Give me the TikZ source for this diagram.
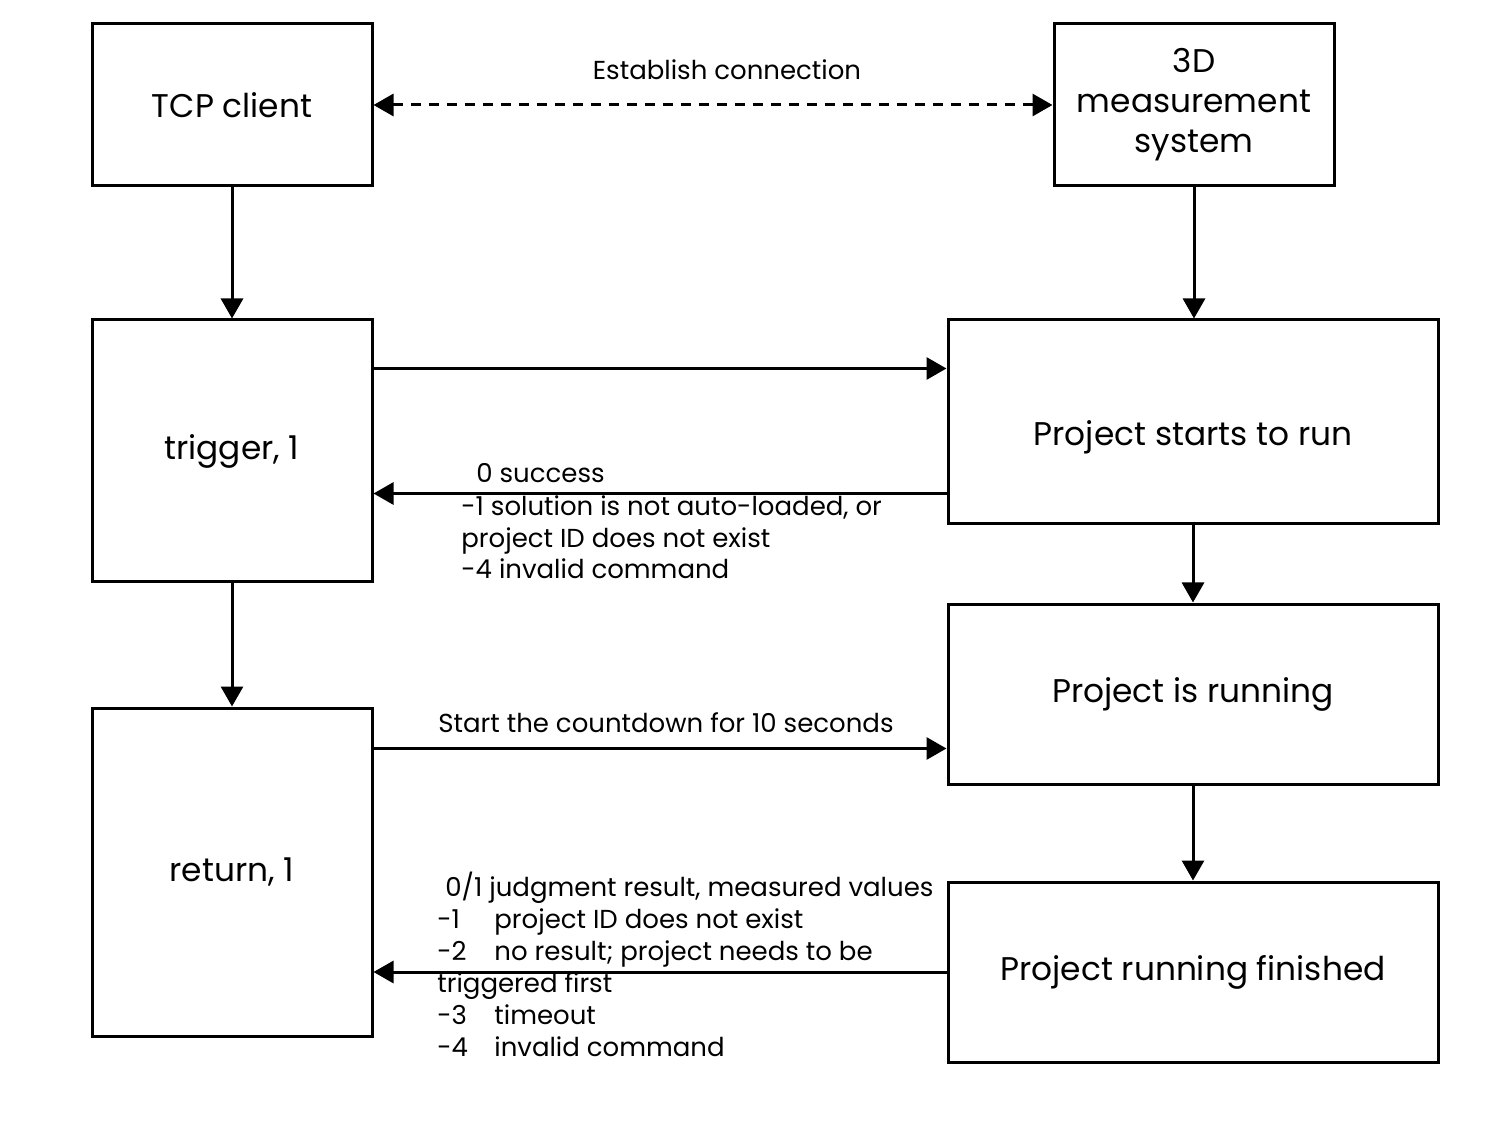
\documentclass[tikz,border=0pt]{standalone}
\usepackage{fontspec}
\setmainfont{Poppins}
\usetikzlibrary{arrows.meta}
\definecolor{ink}{RGB}{0, 0, 0}

\begin{document}
\begin{tikzpicture}[x=0.5pt, y=-0.5pt,
        box/.style={draw=ink, line width=1.5pt, align=center, inner sep=0pt,
                    font=\fontsize{16.4}{20}\selectfont},
        smallbox/.style={box, minimum width=140pt},
        widebox/.style={box, minimum width=245pt},
        arr/.style={draw=ink, line width=1.5pt, -{Triangle[length=10pt, width=11pt]}},
        link/.style={draw=ink, line width=1.5pt, dash pattern=on 5pt off 4pt,
                     {Triangle[length=10pt, width=11pt]}-{Triangle[length=10pt, width=11pt]}},
        note/.style={inner sep=0pt, align=left, font=\fontsize{13}{16}\selectfont}]
    \useasboundingbox (0,0) rectangle (1500,1128);
    % boxes
    \node[smallbox, minimum height=81pt]  (tcp)   at ( 232, 105) {TCP client};
    \node[smallbox, minimum height=81pt]  (meas)  at (1194, 105) {3D\\measurement\\system};
    \node[smallbox, minimum height=131pt] (trig)  at ( 232, 451) {trigger, 1};
    \node[smallbox, minimum height=164pt] (ret)   at ( 232, 872) {return, 1};
    \node[widebox,  minimum height=102pt, text height=28pt] (start) at (1193, 422) {Project starts to run};
    \node[widebox,  minimum height=90pt]  (run)   at (1193, 694) {Project is running};
    \node[widebox,  minimum height=90pt]  (fin)   at (1193, 972) {Project running finished};
    % connection
    \draw[link] (tcp.east) -- (meas.west);
    \node[note, anchor=base] (estab) at (727, 80) {Establish connection};
    % downward flow
    \draw[arr] (tcp.south)  -- (trig.north);
    \draw[arr] (trig.south) -- (ret.north);
    \draw[arr] (meas.south) -- (meas.south |- start.north);
    \draw[arr] (start.south) -- (start.south |- run.north);
    \draw[arr] (run.south)  -- (run.south |- fin.north);
    % requests and replies
    \draw[arr] ([yshift=-25pt]trig.north east) coordinate (q1) -- (start.west |- q1);
    \draw[arr] ([yshift=16pt]start.south west) coordinate (a1) -- (trig.east |- a1);
    \draw[arr] ([yshift=-21pt]ret.north east) coordinate (q2) -- (run.west |- q2);
    \draw[arr] (fin.west) -- (ret.east |- fin.west);
    \node[note, anchor=base] (count) at (666, 732) {Start the countdown for 10 seconds};
    % base anchor sits on the last line
    \node[note, anchor=base west] (reply1) at (461, 579)
        {\hspace*{7.5pt}0 success\\
         -1 solution is not auto-loaded, or\\
         project ID does not exist\\
         -4 invalid command};
    \node[note, anchor=base west] (reply2) at (437, 1056)
        {\hspace*{4pt}0/1 judgment result, measured values\\
         \makebox[28.5pt][l]{-1}project ID does not exist\\
         \makebox[28.5pt][l]{-2}no result; project needs to be\\
         triggered first\\
         \makebox[28.5pt][l]{-3}timeout\\
         \makebox[28.5pt][l]{-4}invalid command};
\end{tikzpicture}
\end{document}
